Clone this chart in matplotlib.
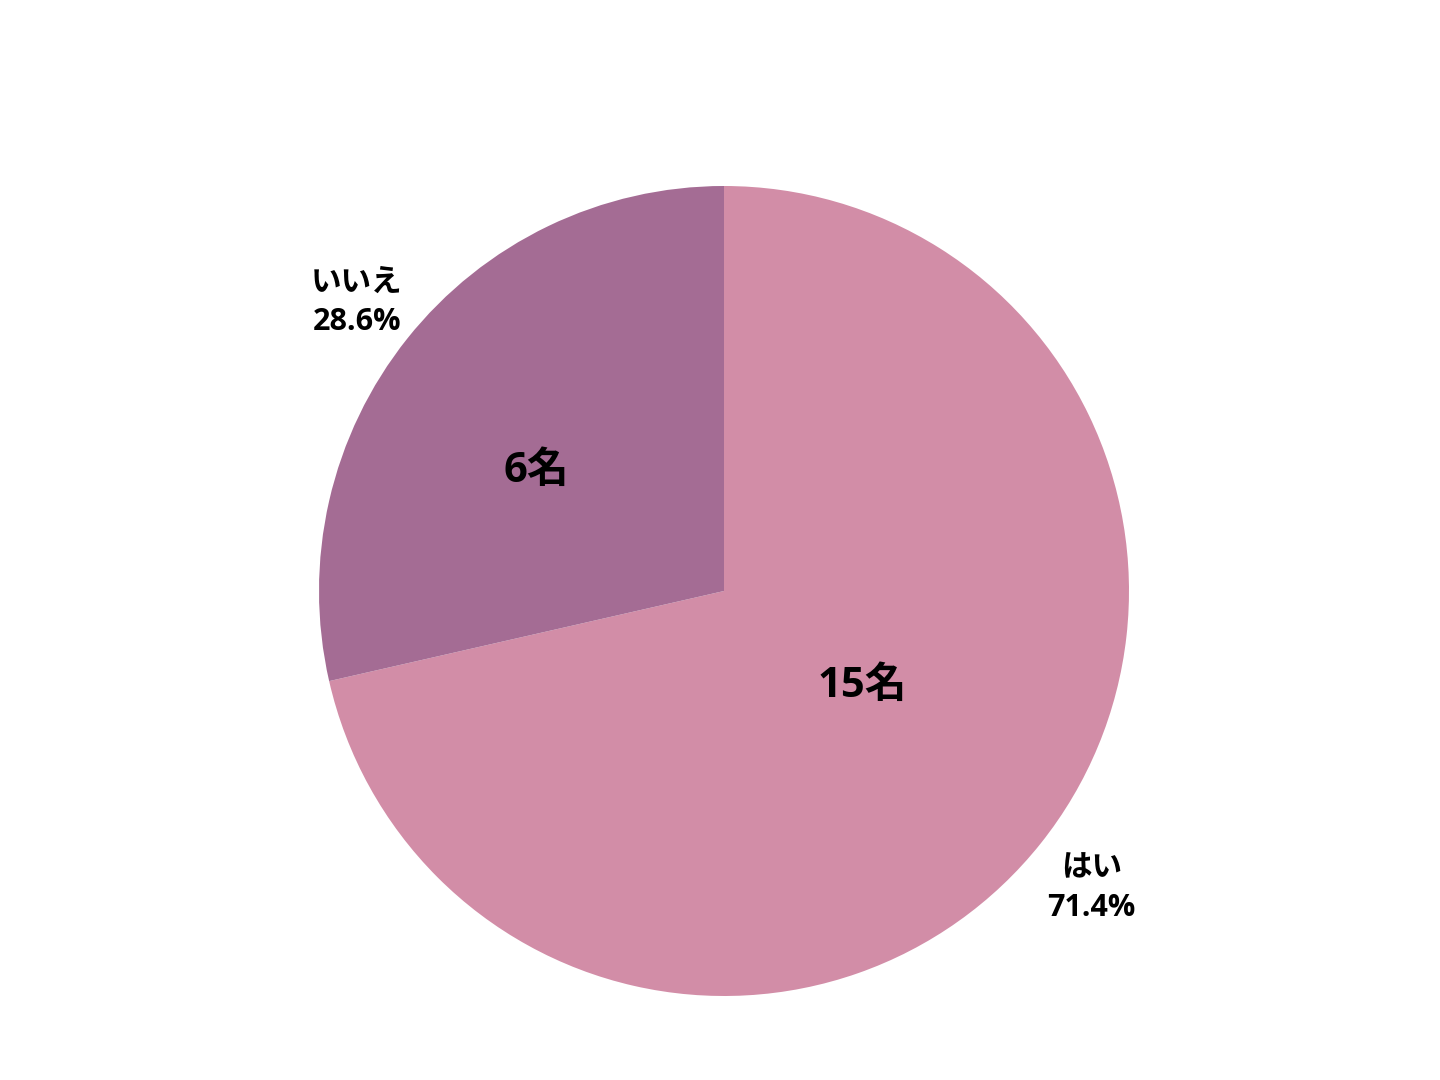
import matplotlib
matplotlib.use("Agg")
import matplotlib.pyplot as plt
import numpy as np

plt.rcParams['font.family'] = ['Open Sans', 'Noto Sans CJK JP', 'DejaVu Sans']

labels = ['はい', 'いいえ']
counts = [15, 6]
colors = ['#D28DA7', '#A46C94']
inner_r = [0.41, 0.556]
inner_shift = 5.2  # degrees, counter-clockwise offset of count labels

fig = plt.figure(figsize=(14.4, 10.8), dpi=100)
ax = fig.add_axes([319 / 1440, 84 / 1080, 810 / 1440, 810 / 1080])

total = sum(counts)
pct = [c / total * 100 for c in counts]
wedges, _ = ax.pie(counts, colors=colors, startangle=90, counterclock=False,
                   radius=1, wedgeprops=dict(linewidth=0))

for w, lab, c, p, r in zip(wedges, labels, counts, pct, inner_r):
    mid_deg = (w.theta1 + w.theta2) / 2
    a = np.radians(mid_deg + inner_shift)
    ax.annotate(f'{c}名', (r * np.cos(a), r * np.sin(a)), xytext=(0, -3),
                textcoords='offset points', ha='center', va='center',
                fontsize=30, fontweight='bold')
    mid = np.radians(mid_deg)
    ax.annotate(f'{lab}\n{p:.1f}%', (1.16 * np.cos(mid), 1.16 * np.sin(mid)),
                xytext=(0, -3), textcoords='offset points',
                ha='center', va='center', fontsize=22, fontweight='bold',
                linespacing=1.4)

ax.set_xlim(-1, 1)
ax.set_ylim(-1, 1)
ax.set_aspect('equal')
ax.axis('off')

fig.savefig('out.png', dpi=100)
